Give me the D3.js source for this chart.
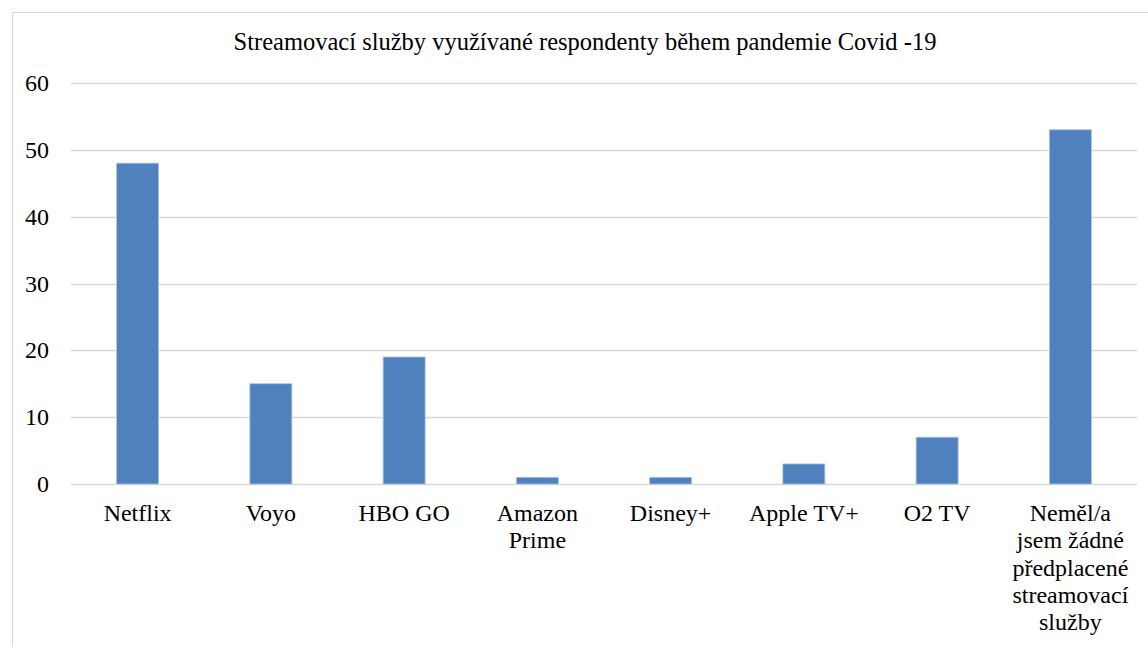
<!DOCTYPE html>
<html>
<head>
<meta charset="utf-8">
<script src="https://cdn.jsdelivr.net/npm/d3@7"></script>
</head>
<body style="margin:0">
<svg id="chart" width="1148" height="647" style="display:block"></svg>
<script>
const title = "Streamovací služby využívané respondenty během pandemie Covid -19";
const categories = ["Netflix", "Voyo", "HBO GO", "Amazon Prime", "Disney+", "Apple TV+", "O2 TV", "Neměl/a jsem žádné předplacené streamovací služby"];
const categoryLines = [["Netflix"], ["Voyo"], ["HBO GO"], ["Amazon", "Prime"], ["Disney+"], ["Apple TV+"], ["O2 TV"], ["Neměl/a", "jsem žádné", "předplacené", "streamovací", "služby"]];
const values = [48, 15, 19, 1, 1, 3, 7, 53];
const yTicks = [0, 10, 20, 30, 40, 50, 60];

const FONT = '"Liberation Serif", monospace';
const W = 1148, H = 647;
const margin = { left: 71, right: 11 };
const svg = d3.select("#chart");

// chart area border (top + left visible, extends off page)
svg.append("rect")
  .attr("x", 12.5).attr("y", 12.5)
  .attr("width", W).attr("height", H)
  .attr("fill", "none").attr("stroke", "#d9d9d9").attr("stroke-width", 1);

const x = d3.scaleBand()
  .domain(categories)
  .range([margin.left, W - margin.right])
  .paddingInner(0.685).paddingOuter(0.3425);

const y = d3.scaleLinear().domain([0, 60]).range([484, 83]);

// gridlines
svg.append("g").selectAll("line")
  .data(yTicks)
  .join("line")
  .attr("x1", margin.left).attr("x2", W - margin.right)
  .attr("y1", d => Math.round(y(d)) + 0.5).attr("y2", d => Math.round(y(d)) + 0.5)
  .attr("stroke", "#d9d9d9").attr("stroke-width", 1.5);

// y tick labels (positioned by the y scale)
svg.append("g").selectAll("text")
  .data(yTicks)
  .join("text")
  .attr("x", 49)
  .attr("y", d => y(d) + 8)
  .attr("text-anchor", "end")
  .attr("font-size", 24)
  .style("font-family", FONT)
  .text(d => d3.format("d")(d));

// bars
svg.append("g").selectAll("rect")
  .data(values)
  .join("rect")
  .attr("x", (d, i) => x(categories[i]))
  .attr("y", d => y(d))
  .attr("width", x.bandwidth())
  .attr("height", d => y(0) - y(d))
  .attr("fill", "#4f81bd")
  .attr("stroke", "#a9c1e0").attr("stroke-width", 0.8);

// x labels
const xg = svg.append("g");
categories.forEach((c, i) => {
  const cx = x(c) + x.bandwidth() / 2;
  const t = xg.append("text")
    .attr("x", cx).attr("y", 521)
    .attr("text-anchor", "middle")
    .attr("font-size", 24)
    .style("font-family", FONT);
  categoryLines[i].forEach((ln, j) => {
    t.append("tspan").attr("x", cx).attr("y", 521 + j * 27.3).text(ln);
  });
});

// title
svg.append("text")
  .attr("x", 585).attr("y", 50)
  .attr("text-anchor", "middle")
  .attr("font-size", 24.5)
  .style("font-family", FONT)
  .text(title);
</script>
</body>
</html>
